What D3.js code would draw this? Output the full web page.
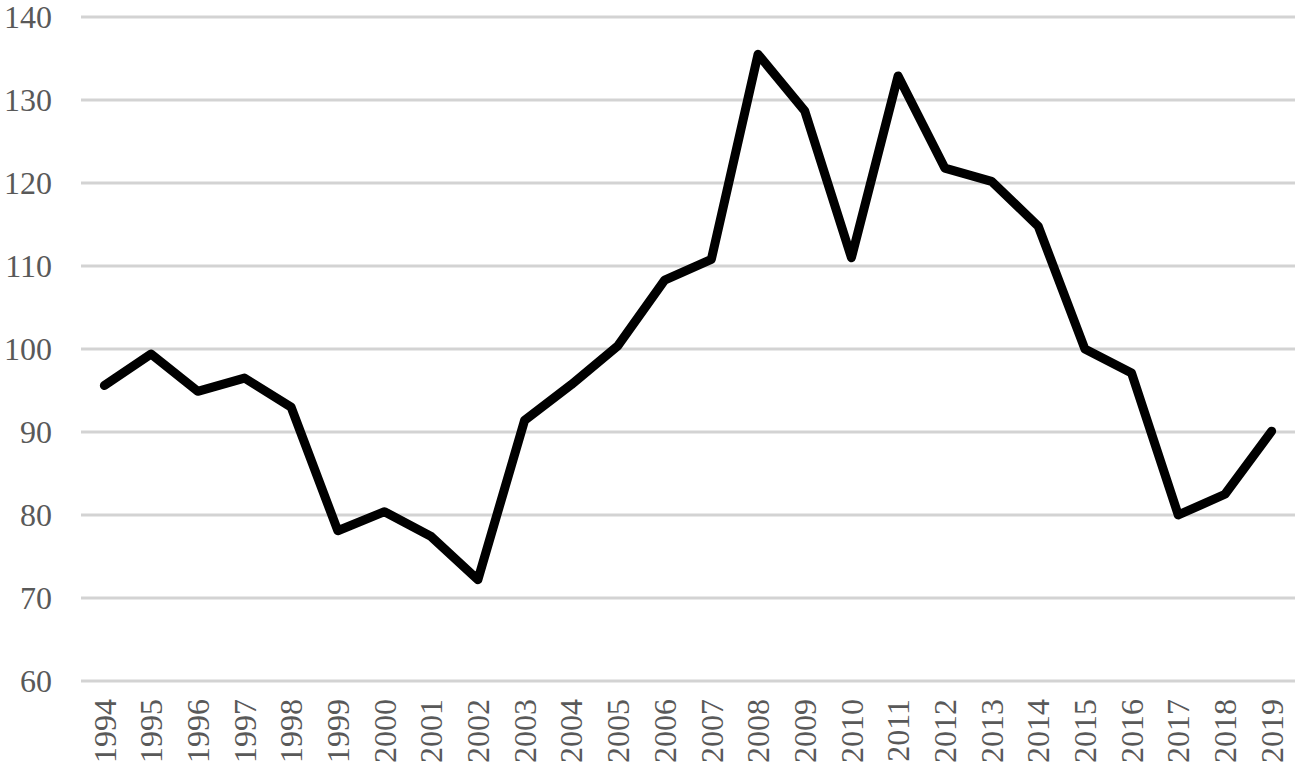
<!DOCTYPE html>
<html>
<head>
<meta charset="utf-8">
<script src="https://cdn.jsdelivr.net/npm/d3@7"></script>
<style>
  body { margin: 0; background: #fff; }
  svg { display: block; }
  .tick-label { font-family: "Liberation Serif", "Times New Roman", serif; font-size: 32px; fill: #595959; }
</style>
</head>
<body>
<svg id="chart"></svg>
<script>
const years = ['1994','1995','1996','1997','1998','1999','2000','2001','2002','2003','2004','2005','2006',
  '2007','2008','2009','2010','2011','2012','2013','2014','2015','2016','2017','2018','2019'];
const values = [95.6, 99.4, 94.9, 96.5, 93.0, 78.1, 80.4, 77.4, 72.2, 91.4, 95.7, 100.4, 108.3,
  110.8, 135.5, 128.7, 111.0, 132.9, 121.8, 120.2, 114.8, 100.0, 97.1, 80.0, 82.5, 90.1];
const yTicks = [60, 70, 80, 90, 100, 110, 120, 130, 140];

const width = 1300, height = 772;
const plot = { left: 81, right: 1295, top: 17, bottom: 681 };

const svg = d3.select('#chart').attr('width', width).attr('height', height);

const x = d3.scaleBand().domain(years).range([plot.left, plot.right]);
const y = d3.scaleLinear().domain([60, 140]).range([plot.bottom, plot.top]);

// gridlines
svg.append('g').selectAll('line')
  .data(yTicks)
  .join('line')
  .attr('x1', plot.left).attr('x2', plot.right)
  .attr('y1', d => y(d)).attr('y2', d => y(d))
  .attr('stroke', '#d3d3d3').attr('stroke-width', 3);

// y labels
svg.append('g').selectAll('text')
  .data(yTicks)
  .join('text')
  .attr('class', 'tick-label')
  .attr('x', 52).attr('y', d => y(d))
  .attr('dy', '0.35em')
  .attr('text-anchor', 'end')
  .text(d => d);

// x labels, rotated
svg.append('g').selectAll('text')
  .data(years)
  .join('text')
  .attr('class', 'tick-label')
  .attr('transform', d => `translate(${x(d) + x.bandwidth() / 2},699) rotate(-90)`)
  .attr('dy', '0.35em')
  .attr('text-anchor', 'end')
  .text(d => d);

// the line
const line = d3.line()
  .x((d, i) => x(years[i]) + x.bandwidth() / 2)
  .y(d => y(d));

svg.append('path')
  .datum(values)
  .attr('d', line)
  .attr('fill', 'none')
  .attr('stroke', '#000')
  .attr('stroke-width', 9)
  .attr('stroke-linejoin', 'round')
  .attr('stroke-linecap', 'round');
</script>
</body>
</html>
